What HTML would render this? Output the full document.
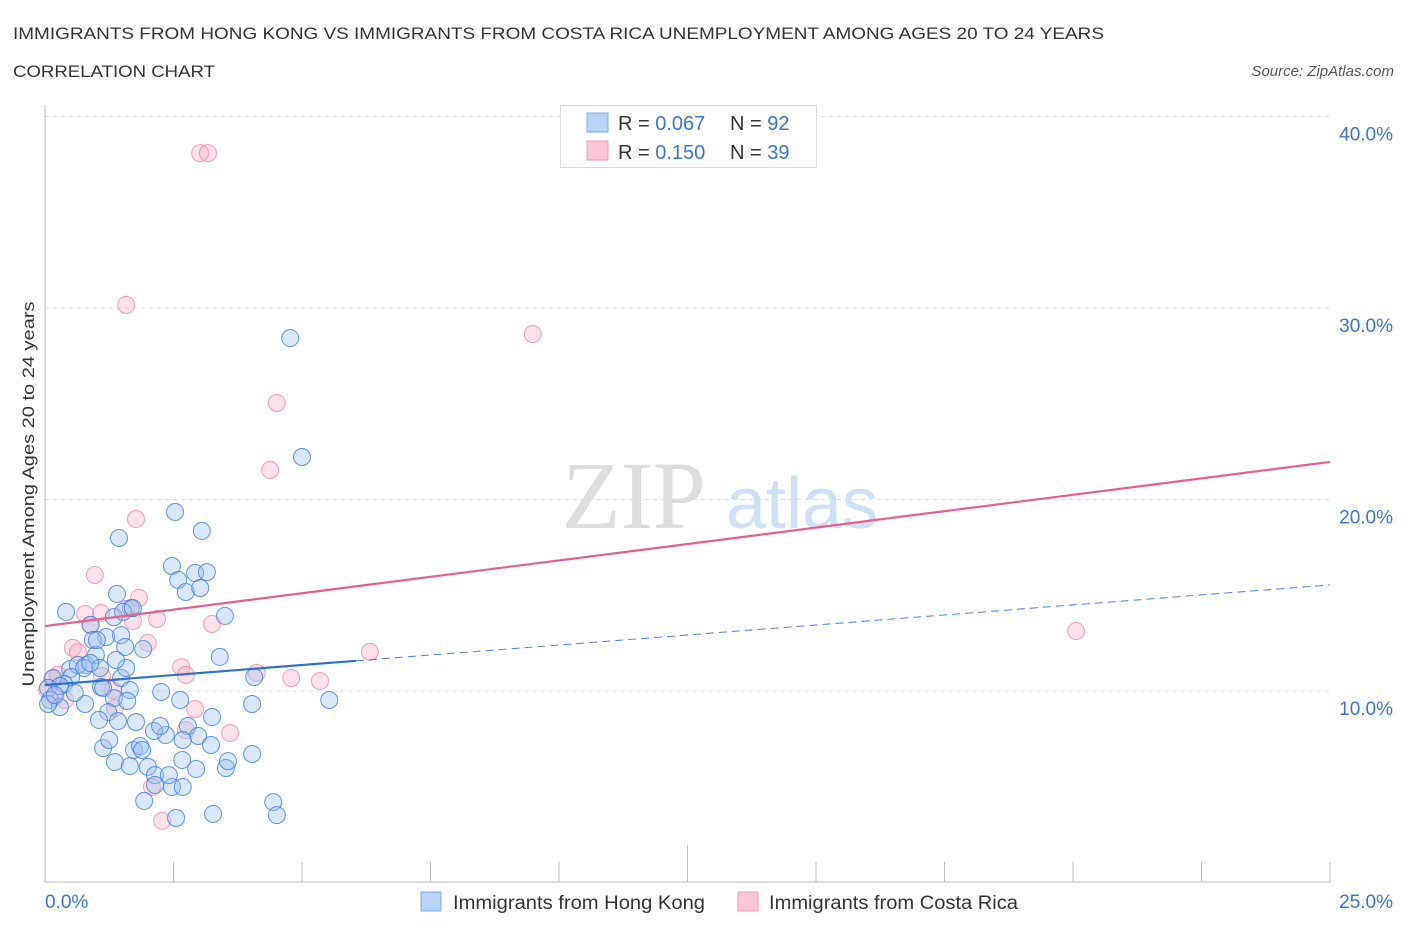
<!DOCTYPE html>
<html><head><meta charset="utf-8">
<style>
body{margin:0;background:#fff;width:1406px;height:930px;overflow:hidden;font-family:"Liberation Sans",sans-serif;}
svg{position:absolute;left:0;top:0}
</style></head>
<body>
<svg id="chart" width="1406" height="930">
<text x="13" y="39" font-size="17" fill="#333" textLength="1091" lengthAdjust="spacingAndGlyphs">IMMIGRANTS FROM HONG KONG VS IMMIGRANTS FROM COSTA RICA UNEMPLOYMENT AMONG AGES 20 TO 24 YEARS</text>
<text x="13" y="77" font-size="17" fill="#333" textLength="202" lengthAdjust="spacingAndGlyphs">CORRELATION CHART</text>
<text x="1394" y="76" font-size="15" fill="#555" font-style="italic" text-anchor="end">Source: ZipAtlas.com</text>
<g>
<text x="634" y="528" font-size="96" fill="#ddd" font-family="Liberation Serif,serif" text-anchor="middle">ZIP</text>
<text x="802" y="528" font-size="72" fill="#cfe0f3" text-anchor="middle">atlas</text>
</g>
<g id="grid"></g>
<g id="axes"></g>
<g id="marks"></g>
<text transform="translate(34,494) rotate(-90)" font-size="17" fill="#333" text-anchor="middle" textLength="385" lengthAdjust="spacingAndGlyphs">Unemployment Among Ages 20 to 24 years</text>
<g>
<rect x="560.5" y="105.5" width="256" height="62" fill="#fff" stroke="#ddd"/>
<rect x="587" y="113" width="21" height="19" fill="#b8d3f5" stroke="#7eaee6"/>
<rect x="587" y="141" width="21" height="19" fill="#f9c6d5" stroke="#ee9db6"/>
<text x="618" y="130" font-size="20" fill="#333">R = <tspan fill="#3a75d0">0.067</tspan></text>
<text x="730" y="130" font-size="20" fill="#333">N = <tspan fill="#3a75d0">92</tspan></text>
<text x="618" y="159" font-size="20" fill="#333">R =  <tspan fill="#3a75d0">0.150</tspan></text>
<text x="730" y="159" font-size="20" fill="#333">N = <tspan fill="#3a75d0">39</tspan></text>
</g>
<g>
<rect x="421" y="892" width="20" height="19" fill="#b8d3f5" stroke="#7eaee6"/>
<text x="453" y="909" font-size="19" fill="#333" textLength="252" lengthAdjust="spacingAndGlyphs">Immigrants from Hong Kong</text>
<rect x="738" y="892" width="20" height="19" fill="#f9c6d5" stroke="#ee9db6"/>
<text x="769" y="909" font-size="19" fill="#333" textLength="249" lengthAdjust="spacingAndGlyphs">Immigrants from Costa Rica</text>
</g>
</svg>
<script>
const yTicks=[10,20,30,40];
const yTickLabels=["10.0%","20.0%","30.0%","40.0%"];
const xTickLabels=["0.0%","25.0%"];
const hkX=[0.41,1.44,2.53,3.05,4.77,5.00,2.47,2.59,2.74,2.92,3.15,3.02,3.50,1.40,1.67,1.19,1.48,1.56,1.91,1.34,0.89,0.93,0.99,0.80,1.07,0.49,0.64,0.76,0.88,0.51,0.37,0.16,0.06,0.10,0.29,0.78,1.09,1.48,1.65,1.58,1.38,1.34,1.23,1.05,1.42,1.60,1.13,2.26,2.63,3.25,3.40,4.07,3.52,4.03,4.03,2.67,2.78,2.98,2.68,2.35,1.77,2.12,1.73,2.00,2.14,1.85,1.89,1.13,1.25,1.36,1.65,1.93,2.14,2.47,2.55,2.68,3.27,3.56,4.44,4.51,5.53,3.23,2.94,2.24,2.41,0.29,0.06,0.19,0.58,1.52,1.71,1.01];
const hkY=[14.13,17.99,19.35,18.36,28.43,22.22,16.53,15.80,15.17,16.16,16.21,15.38,13.92,15.07,14.33,12.82,12.92,12.30,12.19,13.86,13.45,12.66,11.88,11.36,11.20,11.15,11.36,11.20,11.46,10.73,10.37,10.68,10.16,9.53,9.16,9.32,10.21,10.68,10.05,11.20,11.62,9.63,8.90,8.49,8.43,9.48,10.16,9.95,9.53,8.64,11.78,10.73,5.98,6.71,9.32,6.40,8.17,7.65,7.44,7.70,8.38,7.91,6.92,6.04,5.61,7.13,6.92,7.02,7.44,6.29,6.08,4.26,5.09,4.99,3.37,4.99,3.58,6.34,4.20,3.52,9.53,7.18,5.93,8.17,5.61,10.26,9.32,9.79,9.90,14.13,14.33,12.66];
const crX=[3.02,3.17,1.58,9.49,4.51,4.38,1.77,0.97,1.83,1.09,1.58,1.71,0.78,2.18,2.00,0.88,0.54,0.64,3.25,2.65,2.74,4.12,4.79,5.35,6.32,20.06,2.92,1.32,1.11,0.25,0.04,0.19,0.39,1.36,2.08,2.28,3.60,2.74,0.14];
const crY=[38.09,38.09,30.16,28.64,25.04,21.54,18.98,16.06,14.86,14.07,14.28,13.66,14.02,13.76,12.51,13.45,12.25,12.03,13.50,11.25,10.84,10.94,10.68,10.52,12.04,13.13,9.06,10.05,10.78,10.84,10.05,9.69,9.53,9.11,4.99,3.22,7.81,7.96,10.63];
const hkTrend=[10.31,15.54];
const crTrend=[13.39,21.96];

const NS="http://www.w3.org/2000/svg";
const X0=45,X1=1330,Y0=882.5,PXY=19.15;
function sx(v){return X0+v/25*(X1-X0);}
function sy(v){return Y0-v*PXY;}
function mk(tag,attrs,parent){const e=document.createElementNS(NS,tag);for(const k in attrs)e.setAttribute(k,attrs[k]);parent.appendChild(e);return e;}
const grid=document.getElementById('grid'),axes=document.getElementById('axes'),marks=document.getElementById('marks');
yTicks.forEach((t,i)=>{
  const l=mk('line',{x1:X0,x2:X1,y1:sy(t),y2:sy(t),stroke:'#ddd','stroke-dasharray':'4,4'},grid);
  
  
  const tx=mk('text',{x:1393,y:sy(t)+24,'font-size':19,fill:'#3a75d0','text-anchor':'end'},axes);
  tx.textContent=yTickLabels[i];
  
  
});
const ya=mk('line',{x1:X0,x2:X0,y1:105,y2:882,stroke:'#bbb'},axes);


const xa=mk('line',{x1:X0,x2:X1,y1:882,y2:882,stroke:'#bbb'},axes);


for(let i=0;i<=10;i++){
  const v=i*2.5;
  const tk=mk('line',{x1:sx(v),x2:sx(v),y1:(i==5?845:862),y2:882,stroke:'#bbb'},axes);
  
  
}
[[0,'start',45],[25,'end',1393]].forEach((a,i)=>{
  const tx=mk('text',{x:a[2],y:908,'font-size':19,fill:'#3a75d0','text-anchor':a[1]},axes);
  tx.textContent=xTickLabels[i];
  
  
});
crX.forEach((x,i)=>{
  const c=mk('circle',{cx:sx(x),cy:sy(crY[i]),r:8.5,fill:'rgba(244,170,195,0.35)',stroke:'rgba(232,130,165,0.75)','stroke-width':1},marks);
  
  
});
hkX.forEach((x,i)=>{
  const c=mk('circle',{cx:sx(x),cy:sy(hkY[i]),r:8.5,fill:'rgba(160,196,240,0.4)',stroke:'rgba(60,125,215,0.8)','stroke-width':1},marks);
  
  
});
const hkAt=v=>hkTrend[0]+(hkTrend[1]-hkTrend[0])*v/25;
const t1=mk('line',{x1:sx(0),y1:sy(hkAt(0)),x2:sx(6.05),y2:sy(hkAt(6.05)),stroke:'#2f6fd0','stroke-width':2.2},marks);


const t2=mk('line',{x1:sx(6.05),y1:sy(hkAt(6.05)),x2:sx(25),y2:sy(hkTrend[1]),stroke:'#4a86d8','stroke-width':1,'stroke-dasharray':'8,5'},marks);


const t3=mk('line',{x1:sx(0),y1:sy(crTrend[0]),x2:sx(25),y2:sy(crTrend[1]),stroke:'#e4608a','stroke-width':2.2},marks);


</script>
</body></html>
